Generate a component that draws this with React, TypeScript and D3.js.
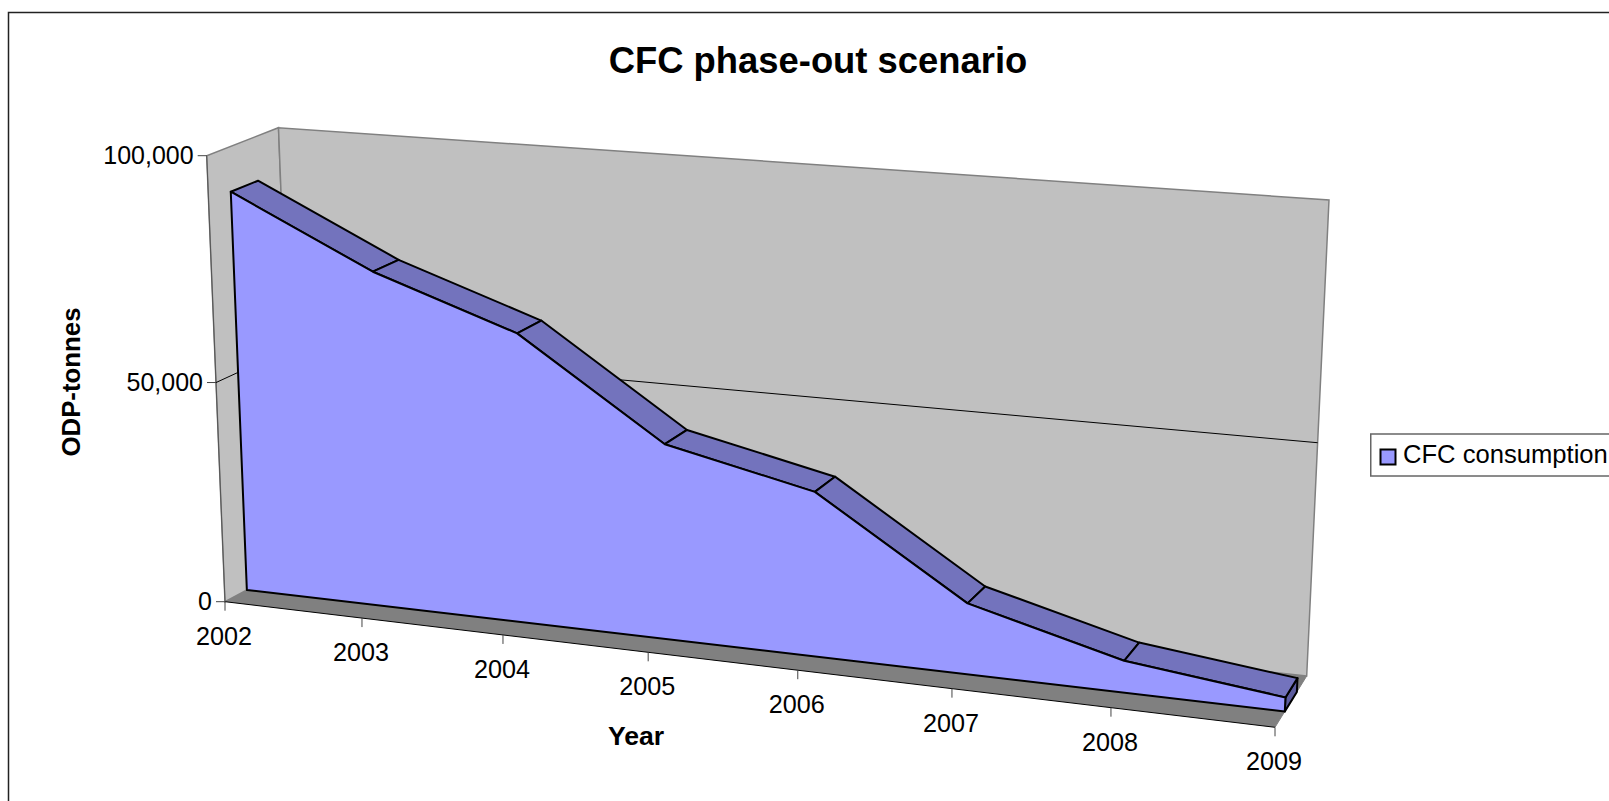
import React from "react";
import * as d3 from "d3";

const years = [2002, 2003, 2004, 2005, 2006, 2007, 2008, 2009];
const consumption = [90226, 75126, 64348, 43159, 36047, 15417, 6836, 2975];
const valueTicks = [0, 50000, 100000];
const seriesName = "CFC consumption";

type P = [number, number];
const A: P = [225, 601.7], B: P = [1275, 727.3], C: P = [206.7, 155.7], H: P = [1295.7, 234.8];
const D: P = [295.5, 564], E: P = [1306.7, 676], F: P = [278.5, 127.7], G: P = [1329, 200];

function quadMap(p00: P, p10: P, p01: P, p11: P) {
  const dx1 = p10[0] - p11[0], dx2 = p01[0] - p11[0], sx = p00[0] - p10[0] + p11[0] - p01[0];
  const dy1 = p10[1] - p11[1], dy2 = p01[1] - p11[1], sy = p00[1] - p10[1] + p11[1] - p01[1];
  const den = dx1 * dy2 - dx2 * dy1;
  const g = (sx * dy2 - dx2 * sy) / den, h = (dx1 * sy - sx * dy1) / den;
  const a = p10[0] - p00[0] + g * p10[0], b = p01[0] - p00[0] + h * p01[0], c = p00[0];
  const d = p10[1] - p00[1] + g * p10[1], e = p01[1] - p00[1] + h * p01[1], f = p00[1];
  return (u: number, t: number): P => {
    const w = g * u + h * t + 1;
    return [(a * u + b * t + c) / w, (d * u + e * t + f) / w];
  };
}
const mix = (a: P, b: P, f: number): P => [a[0] + (b[0] - a[0]) * f, a[1] + (b[1] - a[1]) * f];
const plane = (f: number) => quadMap(mix(A, D, f), mix(B, E, f), mix(C, F, f), mix(H, G, f));

const xScale = d3.scaleLinear().domain([0, years.length - 1]).range([0, 1]);
const yScale = d3.scaleLinear().domain([0, 100000]).range([0, 1]);
const FRONT = 0.31, BACK = 0.69;
const pf = plane(0), pa = plane(FRONT), pb = plane(BACK), pw = plane(1);
const at = (pl: (u: number, t: number) => P, i: number, v: number) => pl(xScale(i), yScale(v));
const line = d3.line<P>();
const poly = (pts: P[]) => line(pts)! + "Z";

const FONT = "'Liberation Sans', Arial, sans-serif";

export default function App() {
  const n = years.length;
  const frontPts = consumption.map((v, i) => at(pa, i, v));
  const backPts = consumption.map((v, i) => at(pb, i, v));
  const frontPoly = [at(pa, 0, 0), ...frontPts, at(pa, n - 1, 0)];
  const endFace = [frontPts[n - 1], backPts[n - 1], at(pb, n - 1, 0), at(pa, n - 1, 0)];
  const midV = valueTicks[1];
  return (
    <svg width={1609} height={801} style={{ position: "absolute", left: 0, top: 0, display: "block" }} fontFamily={FONT}>
      <rect width={1609} height={801} fill="#fff" />
      <rect x={8.5} y={12.5} width={1700} height={900} fill="none" stroke="#222" strokeWidth={1.5} />
      <text x={818} y={73} textAnchor="middle" fontSize={36.4} fontWeight="bold">CFC phase-out scenario</text>

      <path d={poly([A, C, F, D])} fill="#c0c0c0" stroke="#808080" strokeWidth={1.5} />
      <path d={poly([D, F, G, E])} fill="#c0c0c0" stroke="#808080" strokeWidth={1.5} />
      <path d={poly([A, B, E, D])} fill="#808080" stroke="none" />
      <path d={line([A, B])!} stroke="#000" strokeWidth={1} fill="none" />
      <path d={line([B, E])!} stroke="#808080" strokeWidth={1} fill="none" />
      <path d={line([A, C])!} stroke="#555" strokeWidth={1} fill="none" />
      <path d={line([at(pf, 0, midV), at(pw, 0, midV), at(pw, n - 1, midV)])!} stroke="#000" strokeWidth={1} fill="none" />

      {valueTicks.map((v) => {
        const p = at(pf, 0, v);
        return (
          <g key={v}>
            <line x1={p[0] - 9} x2={p[0]} y1={p[1]} y2={p[1]} stroke="#444" strokeWidth={1} />
            <text x={p[0] - 13} y={p[1] + 8} textAnchor="end" fontSize={25}>{d3.format(",")(v)}</text>
          </g>
        );
      })}
      {years.map((y, i) => {
        const p = at(pf, i, 0);
        return (
          <g key={y}>
            <line x1={p[0]} x2={p[0]} y1={p[1]} y2={p[1] + 9} stroke="#444" strokeWidth={1} />
            <text x={p[0] - 1} y={p[1] + 43} textAnchor="middle" fontSize={25.2}>{y}</text>
          </g>
        );
      })}

      <path d={poly(endFace)} fill="#5c5c9e" stroke="#000" strokeWidth={2} strokeLinejoin="round" />
      {d3.range(n - 1).map((i) => (
        <path key={i} d={poly([frontPts[i], backPts[i], backPts[i + 1], frontPts[i + 1]])} fill="#7373bd" stroke="#000" strokeWidth={2} strokeLinejoin="round" />
      ))}
      <path d={poly(frontPoly)} fill="#9999ff" stroke="#000" strokeWidth={2} strokeLinejoin="round" />

      <text x={636} y={745} textAnchor="middle" fontSize={26.6} fontWeight="bold">Year</text>
      <text transform="translate(80,382) rotate(-90)" textAnchor="middle" fontSize={25.8} fontWeight="bold">ODP-tonnes</text>

      <rect x={1370.75} y={434} width={300} height={42} fill="#fff" stroke="#666" strokeWidth={1.5} />
      <rect x={1380.5} y={449.5} width={15} height={15} fill="#9999ff" stroke="#000" strokeWidth={2} />
      <text x={1403} y={463} fontSize={25.6}>{seriesName}</text>
    </svg>
  );
}
